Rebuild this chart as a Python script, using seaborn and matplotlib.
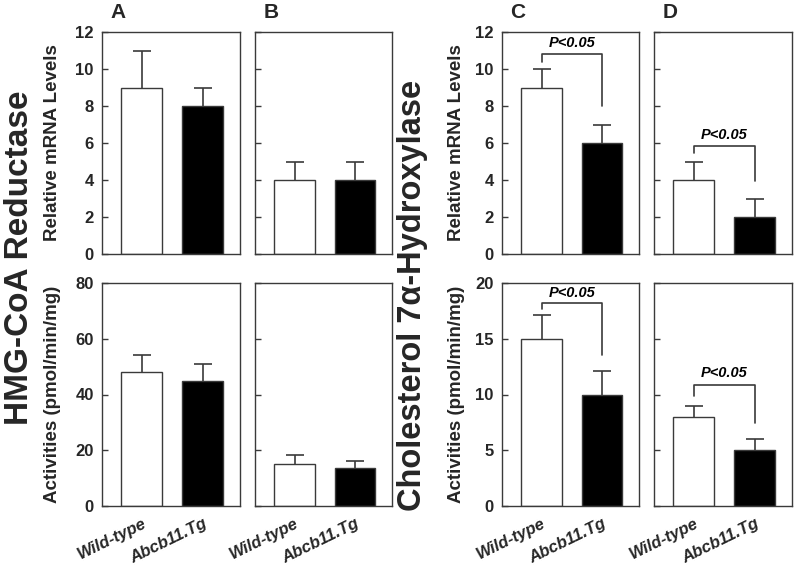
import matplotlib
matplotlib.use("Agg")
import matplotlib.pyplot as plt
import seaborn as sns
import pandas as pd

# ---------------- data ----------------
groups = ["Wild-type", "Abcb11.Tg"]
panel_letters = ["A", "B", "C", "D"]

mrna_means = [[9.0, 8.0], [4.0, 4.0], [9.0, 6.0], [4.0, 2.0]]
mrna_errs = [[2.0, 1.0], [1.0, 1.0], [1.0, 1.0], [1.0, 1.0]]
act_means = [[48.0, 45.0], [15.0, 13.7], [15.0, 10.0], [8.0, 5.0]]
act_errs = [[6.0, 6.0], [3.2, 2.3], [2.1, 2.1], [1.0, 1.0]]

mrna_ticks = [0, 2, 4, 6, 8, 10, 12]
act_ticks_hmg = [0, 20, 40, 60, 80]
act_ticks_cyp = [0, 5, 10, 15, 20]

# significance brackets: (left foot, bar height, right foot, text y); None = no bracket
mrna_sig = [None, None, (10.4, 10.8, 8.0, 11.4), (5.45, 5.85, 3.95, 6.45)]
act_sig = [None, None, (17.7, 18.2, 13.5, 19.1), (9.9, 10.85, 7.4, 11.9)]
sig_text = "P<0.05"

ylabel_top = "Relative mRNA Levels"
ylabel_bottom = "Activities (pmol/min/mg)"
title_left = "HMG-CoA Reductase"
title_right = "Cholesterol 7\u03b1-Hydroxylase"

# ---------------- style ----------------
sns.set_style("ticks")
plt.rcParams["font.family"] = ["Liberation Sans", "DejaVu Sans"]
plt.rcParams["font.weight"] = "bold"

W, H = 795, 572
fig = plt.figure(figsize=(W / 100, H / 100), dpi=100)

dark = "#3a3a3a"
col_lefts = [102, 255, 502, 654]
col_widths = [138, 137, 137, 138]
row_tops = [32, 283]
row_heights = [222, 223]


def make_ax(col, row):
    l = col_lefts[col] / W
    w = col_widths[col] / W
    top = row_tops[row]
    h = row_heights[row]
    b = 1 - (top + h) / H
    return fig.add_axes([l, b, w, h / H])


def draw_panel(ax, means, errs, ticks, sig, show_ylabels, show_xlabels, ylabel, ylabel_x):
    df = pd.DataFrame({"group": groups, "value": means})
    sns.barplot(data=df, x="group", y="value", hue="group",
                palette=["white", "black"], legend=False, ax=ax,
                width=0.67, edgecolor=dark, linewidth=1.0, errorbar=None)
    eb = ax.errorbar([0, 1], means, yerr=[[0, 0], errs], fmt="none",
                     ecolor=dark, elinewidth=1.2, capsize=6.8, capthick=1.2, zorder=5)
    caplines = eb[1]
    if len(caplines) == 2:
        caplines[0].set_visible(False)
    ax.set_xlim(-0.655, 1.615)
    ax.set_ylim(ticks[0], ticks[-1])
    ax.set_yticks(ticks)
    ax.tick_params(axis="y", direction="in", length=4, width=1, color=dark,
                   labelsize=12, pad=6)
    ax.tick_params(axis="x", length=0)
    for s in ax.spines.values():
        s.set_visible(True)
        s.set_color(dark)
        s.set_linewidth(1.0)
    if show_ylabels:
        ax.set_yticklabels([str(t) for t in ticks], fontweight="bold")
        ax.set_ylabel(ylabel, fontsize=13.5, fontweight="bold")
        ax.yaxis.set_label_coords(ylabel_x, 0.5)
    else:
        ax.set_yticklabels([])
        ax.set_ylabel("")
    ax.set_xlabel("")
    if show_xlabels:
        ax.set_xticks([0, 1])
        ax.set_xticklabels(groups, rotation=26, ha="right", rotation_mode="anchor",
                           fontstyle="italic", fontweight="bold", fontsize=12)
        ax.tick_params(axis="x", pad=7)
    else:
        ax.set_xticklabels([])
    if sig is not None:
        lf, hh, rf, ty = sig
        ax.plot([0, 0, 1, 1], [lf, hh, hh, rf], color=dark, lw=1.2, zorder=6)
        ax.text(0.5, ty, sig_text, ha="center", va="center", fontsize=10.5,
                fontstyle="italic", fontweight="bold", color="black")


for c in range(4):
    ax_top = make_ax(c, 0)
    ylx = -0.30 if c == 0 else -0.27
    draw_panel(ax_top, mrna_means[c], mrna_errs[c], mrna_ticks, mrna_sig[c],
               c in (0, 2), False, ylabel_top, ylx)
    ax_top.text(0.06, 1.045, panel_letters[c], transform=ax_top.transAxes,
                ha="left", va="bottom", fontsize=15, fontweight="bold")
    ax_bot = make_ax(c, 1)
    ticks = act_ticks_hmg if c < 2 else act_ticks_cyp
    draw_panel(ax_bot, act_means[c], act_errs[c], ticks, act_sig[c],
               c in (0, 2), True, ylabel_bottom, ylx)

fig.text(20 / W, 1 - 258 / H, title_left, rotation=90, ha="center", va="center",
         fontsize=24, fontweight="bold")
fig.text(413 / W, 1 - 295 / H, title_right, rotation=90, ha="center", va="center",
         fontsize=23.5, fontweight="bold")

fig.savefig("out.png", dpi=100)
